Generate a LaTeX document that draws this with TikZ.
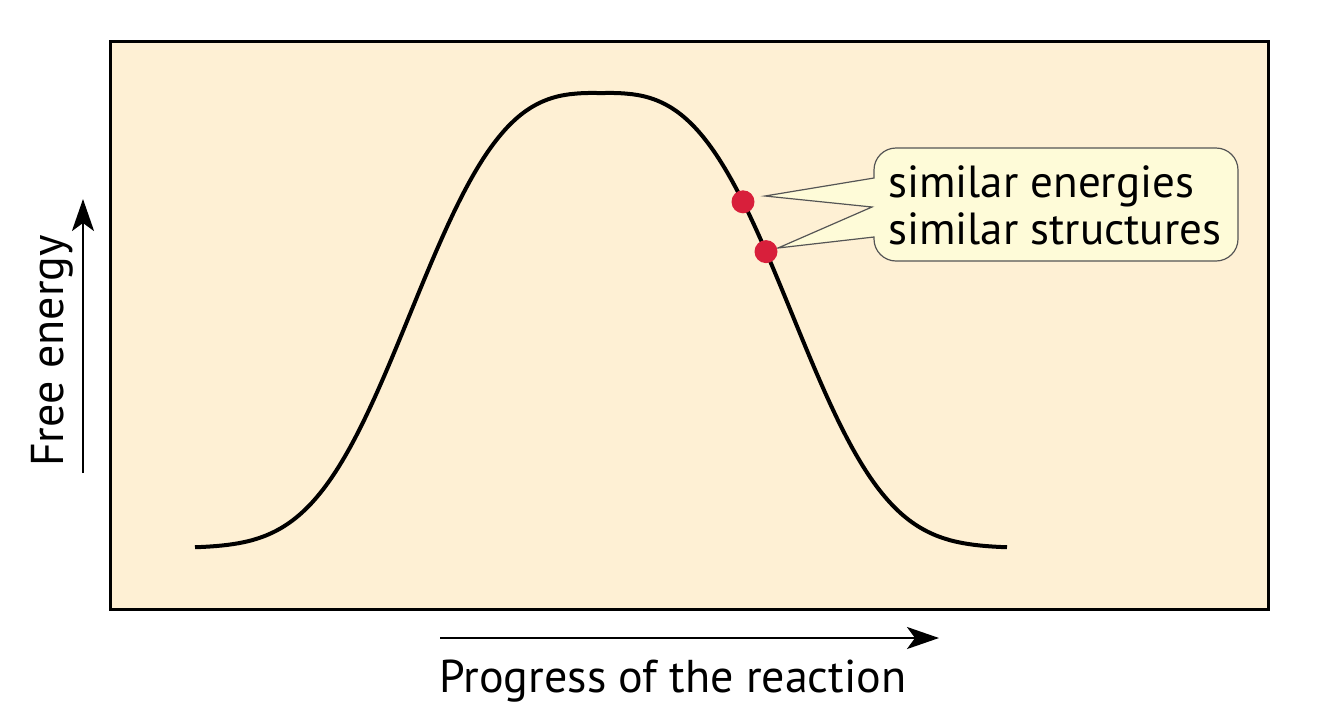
\documentclass[tikz,border=0pt]{standalone}
\usepackage{fontspec}
\setmainfont{PT Sans}
\usetikzlibrary{arrows.meta}
\definecolor{panelfill}{HTML}{FEF0D4}
\definecolor{callfill}{HTML}{FEFBD8}
\definecolor{callline}{HTML}{555555}
\definecolor{dotred}{HTML}{D81F3B}
\tikzset{
  axisarrow/.style={line width=2.6pt,-{Stealth[length=32pt,width=22pt,inset=8pt]}},
  curveline/.style={line width=4pt,line cap=butt},
  dotstyle/.style={circle,fill=dotred,inner sep=0pt,minimum size=23pt},
  labeltext/.style={inner sep=0pt,font=\fontsize{46}{50}\selectfont},
  calltext/.style={inner sep=0pt,font=\fontsize{45}{47}\selectfont,anchor=base west},
}
\begin{document}
\begin{tikzpicture}[x=1pt,y=-1pt]
\useasboundingbox (0,0) rectangle (1334,705);
\fill[white] (0,0) rectangle (1334,705);
\draw[line width=3pt,fill=panelfill] (110,41) rectangle (1268,609);
% curve: generalised bell
\draw[curveline] plot[domain=195:1007,samples=300,variable=\t]
 (\t,{548-455*exp(-(abs(\t-601)/218.8)^3)});
% callout
\draw[callline,line width=1.2pt,fill=callfill]
 (874,178) -- (765,196) -- (872,207) -- (778,248) -- (874,237)
 [rounded corners=22pt] -- (874,261) -- (1238,261) -- (1238,148) -- (874,148) [sharp corners] -- cycle;
\node[calltext] (t1) at (888,197) {similar energies};
\node[calltext] (t2) at (888,244) {similar structures};
% dots
\node[dotstyle] (d1) at (743,201.8) {};
\node[dotstyle] (d2) at (766,251.6) {};
% axes
\coordinate (ya) at (83,473);
\coordinate (yb) at (83,199);
\draw[axisarrow] (ya) -- (yb);
\coordinate (xa) at (440,638);
\coordinate (xb) at (939,638);
\draw[axisarrow] (xa) -- (xb);
\node[labeltext,anchor=base,rotate=90] (yl) at (63,351) {Free energy};
\node[labeltext,anchor=base] (xl) at (673,692) {Progress of the reaction};
\end{tikzpicture}
\end{document}
